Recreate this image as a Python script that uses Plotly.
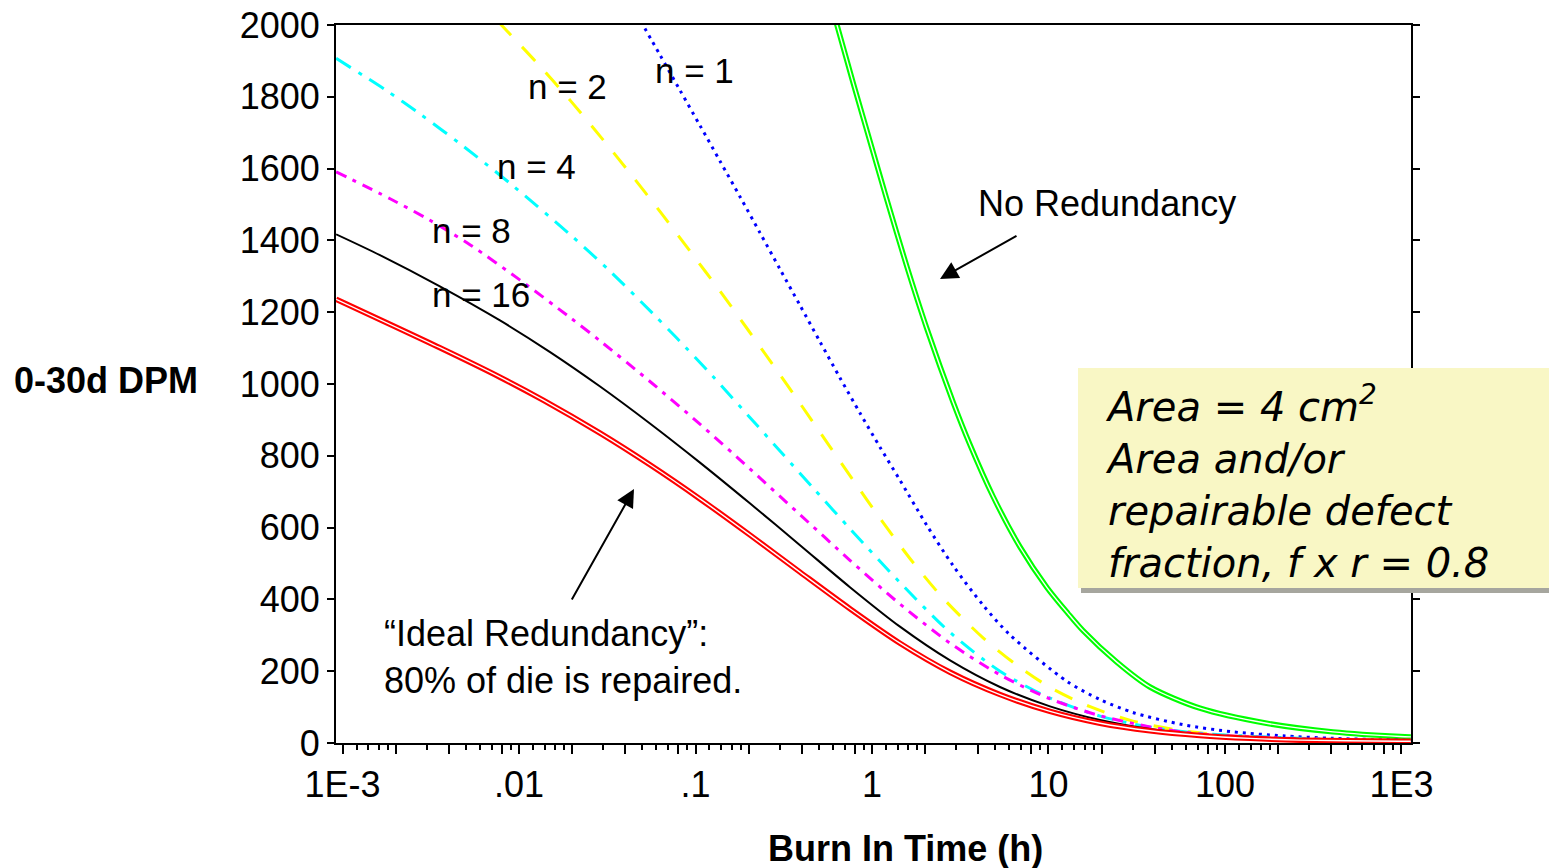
import plotly.graph_objects as go

# ---------------------------------------------------------------------------
# Data: 0-30 day DPM versus burn-in time (hours) for different redundancy n
# ---------------------------------------------------------------------------
t_ideal = [0.00092, 0.00356, 0.0078, 0.0137, 0.0288, 0.0552, 0.106, 0.204, 0.391,
           0.750, 1.44, 2.77, 5.31, 10.2, 19.6, 37.6, 72.1, 139, 266, 982, 1130]
dpm_ideal = [1236, 1101, 1019, 955, 863, 775, 680, 579, 476,
             374, 278, 197, 135, 88, 55, 34, 21, 13, 8, 5, 5]

t_n16 = [0.00092, 0.00163, 0.00356, 0.0078, 0.0150, 0.0288, 0.0552, 0.106, 0.204,
         0.391, 0.750, 1.44, 2.77, 5.31, 10.2, 19.6, 37.6, 72.1, 266, 982, 1130]
dpm_n16 = [1417, 1359, 1272, 1177, 1089, 993, 890, 781, 667,
           551, 434, 324, 230, 156, 102, 64, 39, 23, 11, 6, 6]

t_n8 = [0.00092, 0.00186, 0.00313, 0.00527, 0.0101, 0.0195, 0.0288, 0.0552, 0.106,
        0.204, 0.391, 0.750, 1.44, 2.77, 5.31, 10.2, 19.6, 37.6, 72.1, 266, 982, 1130]
dpm_n8 = [1591, 1516, 1456, 1388, 1290, 1185, 1120, 1007, 888,
          763, 636, 509, 387, 278, 190, 123, 76, 45, 25, 12, 6, 6]

t_n4 = [0.00092, 0.00178, 0.00275, 0.00464, 0.00889, 0.0195, 0.0328, 0.0574, 0.0783,
        0.126, 0.212, 0.313, 0.463, 0.750, 1.44, 2.77, 5.31, 10.2, 19.6, 37.6, 72.1,
        266, 982, 1130]
dpm_n4 = [1907, 1817, 1752, 1669, 1559, 1416, 1314, 1196, 1128,
          1020, 897, 804, 711, 597, 447, 308, 200, 125, 75, 44, 27,
          13, 6, 6]

t_n2 = [0.0076, 0.0126, 0.0195, 0.0294, 0.0426, 0.0630, 0.0931, 0.138, 0.195, 0.275,
        0.391, 0.553, 0.780, 1.11, 1.64, 2.52, 4.26, 6.61, 10.2, 17.2, 30.1, 50.8,
        90.2, 173, 982, 1130]
dpm_n2 = [2010, 1895, 1790, 1685, 1587, 1480, 1370, 1258, 1156, 1053,
          946, 839, 733, 626, 514, 404, 293, 217, 155, 101, 61, 38,
          23, 13, 7, 7]

t_n1 = [0.049, 0.0630, 0.0817, 0.106, 0.138, 0.179, 0.232, 0.301, 0.391, 0.507,
        0.659, 0.855, 1.11, 1.44, 2.04, 2.88, 4.26, 6.05, 12.7, 19.6, 30.1, 57.8,
        111, 213, 409, 982, 1130]
dpm_n1 = [2010, 1916, 1818, 1720, 1620, 1521, 1421, 1320, 1219, 1118,
          1017, 919, 824, 732, 607, 494, 384, 301, 172, 121, 85, 51,
          31, 20, 13, 8, 8]

t_none = [0.625, 0.783, 1.02, 1.21, 1.57, 2.04, 2.89, 3.59, 4.85, 6.90, 9.81, 12.9,
          15.7, 24.3, 37.6, 72.1, 172, 409, 982, 1130]
dpm_none = [2010, 1838, 1642, 1516, 1330, 1156, 948, 831, 687, 546, 433, 361,
            313, 226, 156, 97, 55, 31, 18, 17]

decade_text = ["1E-3", ".01", ".1", "1", "10", "100", "1E3"]

# ---------------------------------------------------------------------------
# Layout geometry
# ---------------------------------------------------------------------------
W, H = 1549, 868
L, R, T, B = 336, 1411, 25, 743
X_RANGE = [-3.037, 3.054]
Y_RANGE = [0, 2000]

FONT = "Liberation Sans, Arial, sans-serif"
FS = 36


def px_x(p):
    return (p - L) / (R - L)


def px_y(p):
    return (B - p) / (B - T)


# major ticks at 1, 2, 4, 8 of every decade, labels only on decades
major_ticks, major_text = [], []
minor_ticks = []
for k in range(-3, 3):
    base = 10.0 ** k
    for m in (1, 2, 4, 8):
        major_ticks.append(m * base)
        major_text.append(decade_text[k + 3] if m == 1 else "")
    for m in (1.2, 1.4, 1.6, 1.8, 3, 5, 6, 7, 9):
        minor_ticks.append(m * base)
major_ticks.append(1000)
major_text.append(decade_text[-1])

fig = go.Figure()


def line_trace(t, y, color, width, dash="solid"):
    return go.Scatter(
        x=t, y=y, mode="lines",
        line=dict(color=color, width=width, dash=dash, shape="spline", smoothing=0.8),
        hoverinfo="skip", showlegend=False,
    )


def add_double(t, y, color):
    fig.add_trace(line_trace(t, y, color, 5.5))
    fig.add_trace(line_trace(t, y, "white", 1.4))


add_double(t_none, dpm_none, "#00FF00")
fig.add_trace(line_trace(t_n1, dpm_n1, "#0000FF", 3, "3px,5px"))
fig.add_trace(line_trace(t_n2, dpm_n2, "#FFFF00", 3, "19px,16px"))
fig.add_trace(line_trace(t_n4, dpm_n4, "#00FFFF", 3, "17px,9px,4px,9px"))
fig.add_trace(line_trace(t_n8, dpm_n8, "#FF00FF", 3, "11px,7px,4px,7px"))
fig.add_trace(line_trace(t_n16, dpm_n16, "#000000", 2))
add_double(t_ideal, dpm_ideal, "#FF0000")

axis_common = dict(showgrid=False, zeroline=False, linecolor="black",
                   tickcolor="black", automargin=False)

fig.update_layout(
    width=W, height=H,
    margin=dict(l=L, r=W - R, t=T, b=H - B, pad=0, autoexpand=False),
    paper_bgcolor="white", plot_bgcolor="white",
    font=dict(family=FONT, size=FS, color="black"),
    xaxis=dict(
        type="log", range=X_RANGE,
        tickmode="array", tickvals=major_ticks, ticktext=major_text,
        ticks="outside", ticklen=9, tickwidth=1.5,
        showline=True, linewidth=2, mirror=True,
        tickfont=dict(family=FONT, size=FS),
        minor=dict(tickmode="array", tickvals=minor_ticks, ticks="outside",
                   ticklen=5, tickwidth=1.5, tickcolor="black"),
        **axis_common,
    ),
    xaxis2=dict(
        type="log", range=X_RANGE, overlaying="x", side="top", anchor="y",
        tickmode="array", tickvals=major_ticks, ticks="inside", ticklen=9, tickwidth=1.5,
        showticklabels=False, showline=False,
        minor=dict(tickmode="array", tickvals=minor_ticks, ticks="inside",
                   ticklen=5, tickwidth=1.5, tickcolor="black"),
        **axis_common,
    ),
    yaxis=dict(
        range=Y_RANGE, tick0=0, dtick=200,
        ticks="outside", ticklen=7, tickwidth=1.5,
        showline=True, linewidth=2, mirror="ticks",
        tickfont=dict(family=FONT, size=FS),
        **axis_common,
    ),
    yaxis2=dict(
        range=Y_RANGE, tick0=0, dtick=200, overlaying="y", side="left", anchor="x",
        ticks="inside", ticklen=7, tickwidth=1.5,
        showline=True, linewidth=2, mirror="ticks", showticklabels=False,
        **axis_common,
    ),
)

annotations = []


def label(text, xp, yp, size=FS, **kw):
    d = dict(text=text, x=px_x(xp), y=px_y(yp), xref="paper", yref="paper",
             xanchor="center", yanchor="middle", showarrow=False,
             font=dict(family=FONT, size=size, color="black"))
    d.update(kw)
    annotations.append(d)


# curve labels
label("n = 1", 694, 70, size=35)
label("n = 2", 567, 86, size=35)
label("n = 4", 536, 166, size=35)
label("n = 8", 471, 230, size=35)
label("n = 16", 481, 294, size=35)
label("No Redundancy", 1107, 203)
label("\u201cIdeal Redundancy\u201d:<br>80% of die is repaired.", 382, 657,
      xanchor="left", align="left")

# axis titles
label("<b>0-30d DPM</b>", 106, 380)
label("<b>Burn In Time (h)</b>", 905, 848)

# pointer arrows


def arrow(head_x, head_y, tail_x, tail_y):
    annotations.append(dict(
        x=px_x(head_x), y=px_y(head_y), xref="paper", yref="paper",
        ax=tail_x - head_x, ay=tail_y - head_y, axref="pixel", ayref="pixel",
        text="", showarrow=True, arrowhead=2, arrowsize=1.8, arrowwidth=2,
        arrowcolor="black", standoff=0,
    ))


arrow(634, 489, 571, 601)
arrow(940, 279, 1018, 235)

# note box text
annotations.append(dict(
    text="<i>Area = 4 cm<sup>2</sup><br>Area and/or<br>repairable defect<br>fraction, f x r = 0.8</i>",
    x=px_x(1103), y=px_y(482), xref="paper", yref="paper",
    xanchor="left", yanchor="middle", align="left", showarrow=False,
    font=dict(family="DejaVu Sans, sans-serif", size=40, color="black"),
))

fig.update_layout(annotations=annotations)

# note box with drop shadow
fig.add_shape(type="rect", xref="paper", yref="paper",
              x0=px_x(1081), x1=px_x(1565), y0=px_y(593), y1=px_y(372),
              fillcolor="#A6A69E", line=dict(width=0), layer="above")
fig.add_shape(type="rect", xref="paper", yref="paper",
              x0=px_x(1078), x1=px_x(1565), y0=px_y(588), y1=px_y(368),
              fillcolor="#F9F7C5", line=dict(width=0), layer="above")

fig.write_html("out.html")
